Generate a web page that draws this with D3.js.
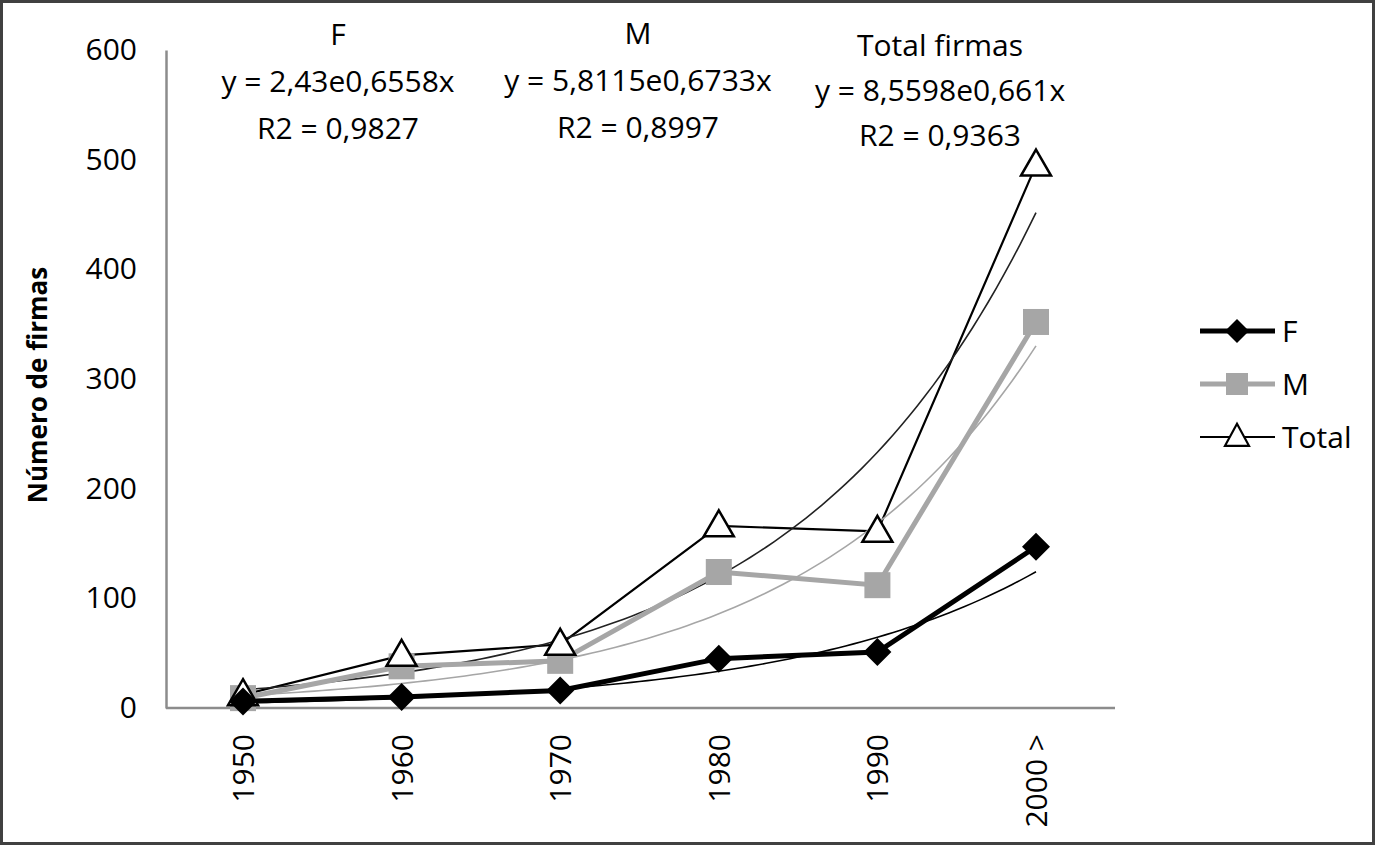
<!DOCTYPE html>
<html><head><meta charset="utf-8">
<script src="https://cdn.jsdelivr.net/npm/d3@7"></script>
<style>html,body{margin:0;padding:0;background:#fff;} svg{display:block;}</style>
</head><body>
<svg id="chart" width="1375" height="845"></svg>
<script>
const categories = ["1950","1960","1970","1980","1990","2000 >"];
const valuesF = [6, 10, 16, 45, 51, 147];
const valuesM = [9, 38, 43, 124, 112, 352];
const valuesTotal = [12, 48, 58, 166, 161, 495];
const yTicks = [0,100,200,300,400,500,600];
// exponential trend coefficients as printed on the chart (y = a·e^(b·x))
const trendF = {a: 2.43, b: 0.6558};
const trendM = {a: 5.8115, b: 0.6733};
const trendTotal = {a: 8.5598, b: 0.661};
const labelsF = ["F", "y = 2,43e0,6558x", "R2 = 0,9827"];
const labelsM = ["M", "y = 5,8115e0,6733x", "R2 = 0,8997"];
const labelsTotal = ["Total firmas", "y = 8,5598e0,661x", "R2 = 0,9363"];

const svg = d3.select("#chart");
const font = "'Open Sans', 'Liberation Sans', sans-serif";
svg.append("rect").attr("x",1.5).attr("y",1.5).attr("width",1372).attr("height",842)
  .attr("fill","#fff").attr("stroke","#404040").attr("stroke-width",3);

const x = d3.scalePoint().domain(categories).range([243,1036]);
const y = d3.scaleLinear().domain([0,600]).range([708,50]);
const xi = d3.scaleLinear().domain([1,6]).range([243,1036]);

// y axis
const ya = svg.append("g").attr("transform","translate(166,0)")
  .call(d3.axisLeft(y).tickValues(yTicks).tickSize(0).tickPadding(29));
ya.select(".domain").attr("stroke","#8c8c8c").attr("stroke-width",2.5);
ya.selectAll("text").attr("font-family",font).attr("font-size",30).attr("fill","#000");

// x axis
const xa = svg.append("g").attr("transform","translate(0,708)")
  .call(d3.axisBottom(x).tickSize(0).tickPadding(0));
xa.select(".domain").remove();
svg.append("line").attr("x1",166).attr("x2",1115).attr("y1",708).attr("y2",708)
  .attr("stroke","#8c8c8c").attr("stroke-width",2.5);
xa.selectAll("text").attr("font-family",font).attr("font-size",30).attr("fill","#000")
  .attr("text-anchor","end").attr("dy","0.35em")
  .attr("transform","translate(0,26) rotate(-90)");

// y axis title
svg.append("text").attr("transform","translate(38,385) rotate(-90)")
  .attr("text-anchor","middle").attr("dy","0.35em")
  .attr("font-family",font).attr("font-size",26).attr("font-weight","bold").text("Número de firmas");

// trendlines
function trend(t, color, w){
  const pts = d3.range(1, 6.0001, 0.05).map(v => [xi(v), y(t.a*Math.exp(t.b*v))]);
  svg.append("path").attr("d", d3.line()(pts)).attr("fill","none")
    .attr("stroke",color).attr("stroke-width",w);
}

const line = d3.line().x((d,i)=>x(categories[i])).y(d=>y(d));
// series lines
svg.append("path").attr("d",line(valuesTotal)).attr("fill","none").attr("stroke","#000").attr("stroke-width",2.2);
trend(trendTotal,"#222",1.6);
svg.append("path").attr("d",line(valuesM)).attr("fill","none").attr("stroke","#a6a6a6").attr("stroke-width",5);
trend(trendM,"#a6a6a6",1.6);
svg.append("path").attr("d",line(valuesF)).attr("fill","none").attr("stroke","#000").attr("stroke-width",5);
trend(trendF,"#000",1.6);

// markers
const diamond = s => `M0,${-s}L${s},0L0,${s}L${-s},0Z`;
const tri = (w,h) => `M0,${-h*0.6}L${w/2},${h*0.4}L${-w/2},${h*0.4}Z`;
svg.selectAll(".mM").data(valuesM).join("rect")
  .attr("x",(d,i)=>x(categories[i])-13).attr("y",d=>y(d)-13)
  .attr("width",26).attr("height",26).attr("fill","#a6a6a6");
svg.selectAll(".mT").data(valuesTotal).join("path")
  .attr("transform",(d,i)=>`translate(${x(categories[i])},${y(d)})`)
  .attr("d",tri(30,26)).attr("fill","#fff").attr("stroke","#000").attr("stroke-width",2.5);
svg.selectAll(".mF").data(valuesF).join("path")
  .attr("transform",(d,i)=>`translate(${x(categories[i])},${y(d)})`)
  .attr("d",diamond(14)).attr("fill","#000");

// annotations
function block(lines, cx, ys){
  lines.forEach((t,i)=>svg.append("text").attr("x",cx).attr("y",ys[i]).attr("text-anchor","middle")
    .attr("dy","0.35em").attr("font-family",font).attr("font-size",30).text(t));
}
block(labelsF, 338, [34,81,128]);
block(labelsM, 638, [33,80,127]);
block(labelsTotal, 940, [45,90,135]);

// legend
const leg = [
  {name:"F", color:"#000", w:5, mk:"d"},
  {name:"M", color:"#a6a6a6", w:5, mk:"s"},
  {name:"Total", color:"#000", w:2.2, mk:"t"}
];
leg.forEach((l,i)=>{
  const ly = 331 + i*53;
  svg.append("line").attr("x1",1200).attr("x2",1275).attr("y1",ly).attr("y2",ly)
    .attr("stroke",l.color).attr("stroke-width",l.w);
  const g = svg.append("g").attr("transform",`translate(1237,${ly})`);
  if(l.mk==="d") g.append("path").attr("d",diamond(12)).attr("fill","#000");
  if(l.mk==="s") g.append("rect").attr("x",-11).attr("y",-11).attr("width",22).attr("height",22).attr("fill","#a6a6a6");
  if(l.mk==="t") g.append("path").attr("d",tri(24,22)).attr("fill","#fff").attr("stroke","#000").attr("stroke-width",2.2);
  svg.append("text").attr("x",1282).attr("y",ly).attr("dy","0.35em")
    .attr("font-family",font).attr("font-size",30).text(l.name);
});
</script>
</body></html>
